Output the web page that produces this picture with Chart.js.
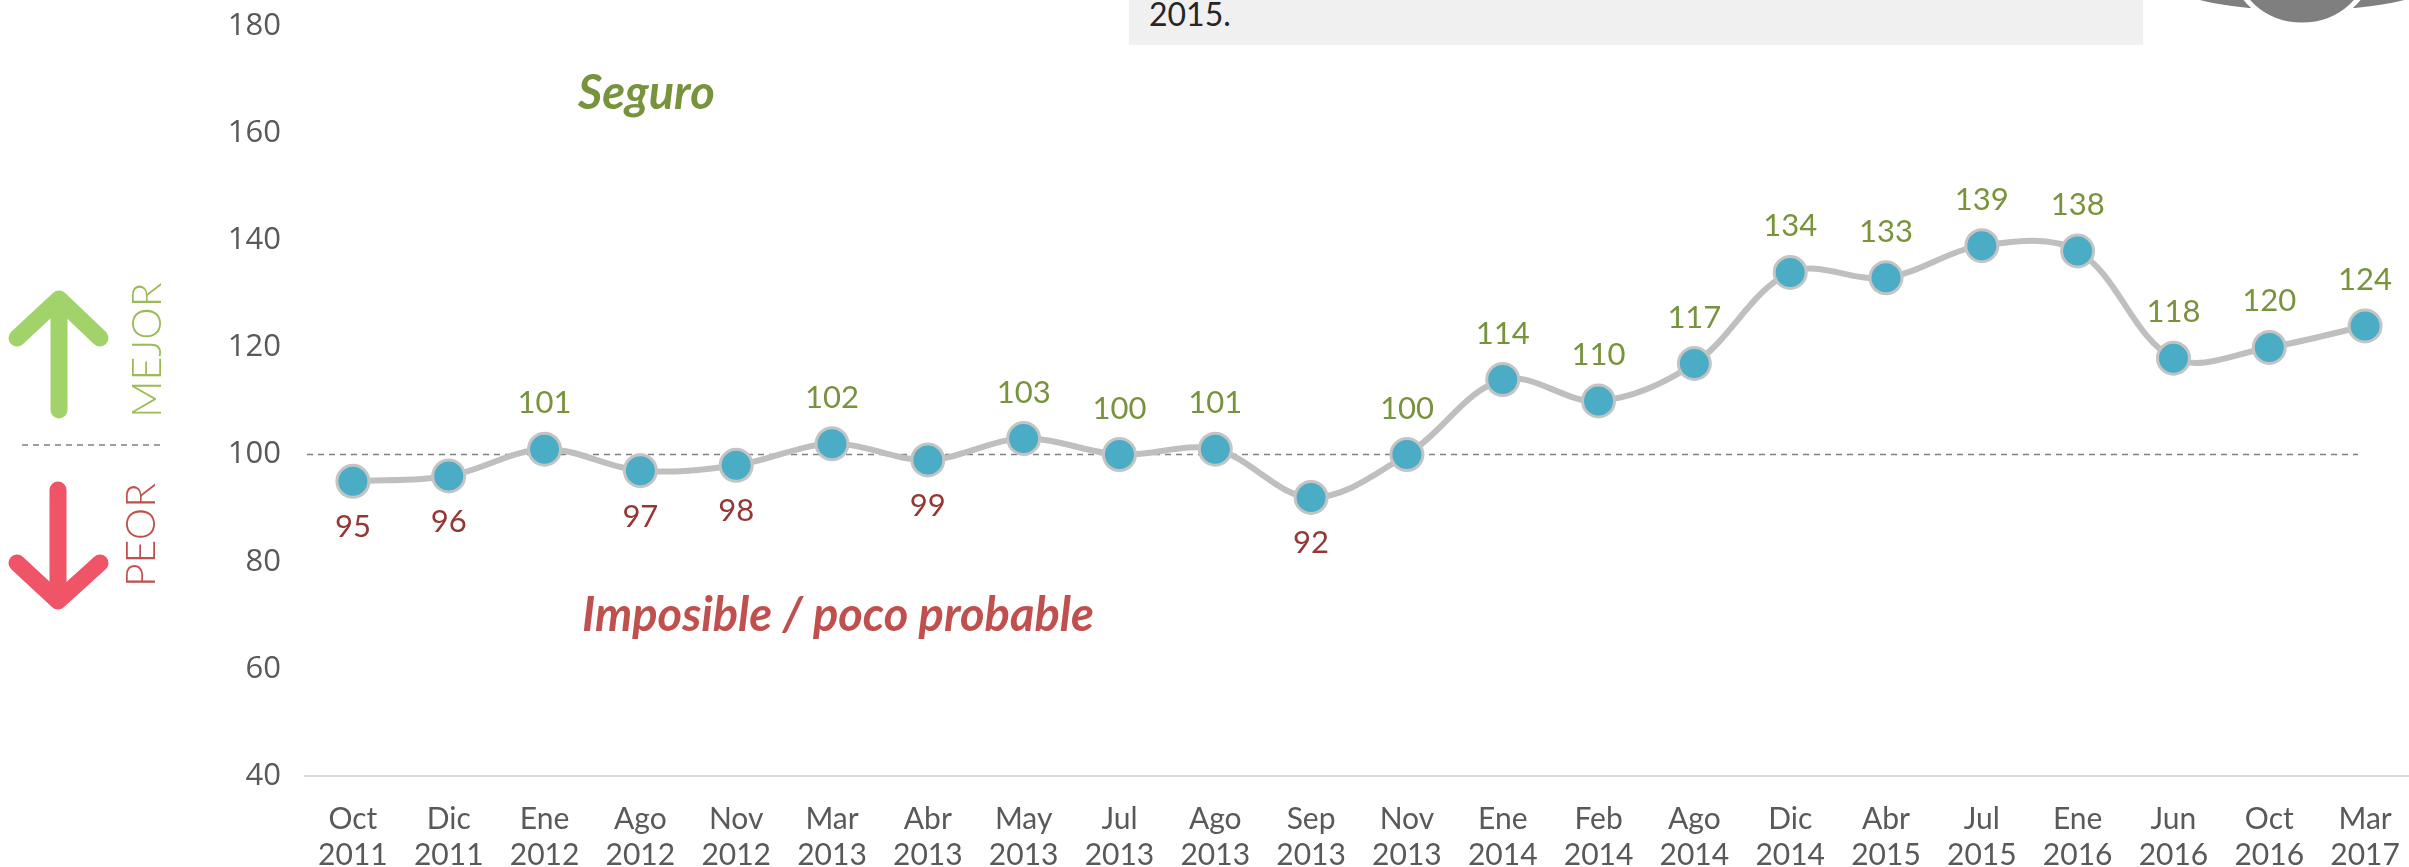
<!DOCTYPE html>
<html>
<head>
<meta charset="utf-8">
<script src="https://cdn.jsdelivr.net/npm/chart.js@4.4.1/dist/chart.umd.min.js"></script>
<style>
  html, body { margin:0; padding:0; background:#fff; }
  body { width:2409px; height:867px; overflow:hidden; position:relative; }
  #wrap { position:absolute; left:0; top:0; width:2432px; height:867px; }
  .ann { position:absolute; white-space:nowrap; line-height:1; }
</style>
</head>
<body>
<div id="wrap"><canvas id="c" width="2432" height="867"></canvas></div>

<!-- note box at top -->
<div class="ann" style="left:1129px;top:0;width:1014px;height:45px;background:#F0F0F0;"></div>
<div class="ann" style="left:1149px;top:-2px;font-family:Lato,sans-serif;font-size:32px;color:#262626;">2015.</div>

<!-- grey icon top right -->
<svg class="ann" style="left:2150px;top:0" width="259" height="40">
  <ellipse cx="152" cy="-14" rx="126" ry="24" fill="#7F7F7F"/>
  <ellipse cx="152" cy="-40" rx="70" ry="65" fill="#7F7F7F" stroke="#FFFFFF" stroke-width="5"/>
</svg>

<!-- left legend arrows -->
<svg class="ann" style="left:0;top:280px" width="200" height="340">
  <g stroke="#A2D36A" stroke-width="17" stroke-linecap="round" stroke-linejoin="round" fill="none">
    <line x1="59" y1="130" x2="59" y2="20"/>
    <polyline points="17,58 59,19 100,58"/>
  </g>
  <line x1="22" y1="165" x2="162" y2="165" stroke="#808080" stroke-width="1.5" stroke-dasharray="6,5"/>
  <g stroke="#EF5467" stroke-width="17" stroke-linecap="round" stroke-linejoin="round" fill="none">
    <line x1="58" y1="210" x2="58" y2="320"/>
    <polyline points="17,283 58,321 100,283"/>
  </g>
</svg>
<div class="ann" style="left:145px;top:350px;transform:translate(-50%,-50%) rotate(-90deg);font-family:Lato,sans-serif;font-weight:300;font-size:41px;color:#9BBB59;">MEJOR</div>
<div class="ann" style="left:139px;top:535px;transform:translate(-50%,-50%) rotate(-90deg);font-family:Lato,sans-serif;font-weight:300;font-size:41px;color:#C0504D;">PEOR</div>

<!-- zone labels -->
<div class="ann" style="left:578px;top:68px;font-family:Lato,sans-serif;font-weight:700;font-style:italic;font-size:47px;color:#77933C;">Seguro</div>
<div class="ann" style="left:582px;top:590px;font-family:Lato,sans-serif;font-weight:700;font-style:italic;font-size:47px;color:#C0504D;">Imposible / poco probable</div>

<script>
// ---- data ----
const months = ["Oct","Dic","Ene","Ago","Nov","Mar","Abr","May","Jul","Ago","Sep","Nov","Ene","Feb","Ago","Dic","Abr","Jul","Ene","Jun","Oct","Mar"];
const years  = ["2011","2011","2012","2012","2012","2013","2013","2013","2013","2013","2013","2013","2014","2014","2014","2014","2015","2015","2016","2016","2016","2017"];
const values = [95,96,101,97,98,102,99,103,100,101,92,100,114,110,117,134,133,139,138,118,120,124];
const yTicks = [40,60,80,100,120,140,160,180];
const refValue = 100;

const labels = months.map((m,i) => [m, years[i]]);

const refLine = {
  id: 'refLine',
  beforeDatasetsDraw(chart) {
    const {ctx, chartArea, scales} = chart;
    const y = scales.y.getPixelForValue(refValue);
    ctx.save();
    ctx.strokeStyle = '#808080';
    ctx.lineWidth = 1.5;
    ctx.setLineDash([6,5]);
    ctx.beginPath();
    ctx.moveTo(chartArea.left + 2, y);
    ctx.lineTo(2358, y);
    ctx.stroke();
    ctx.restore();
  }
};

const valueLabels = {
  id: 'valueLabels',
  afterDatasetsDraw(chart) {
    const {ctx} = chart;
    const meta = chart.getDatasetMeta(0);
    ctx.save();
    ctx.font = '31px Lato, sans-serif';
    ctx.textAlign = 'center';
    ctx.textBaseline = 'middle';
    meta.data.forEach((pt, i) => {
      const v = values[i];
      const above = v >= refValue;
      ctx.fillStyle = above ? '#77933C' : '#953735';
      ctx.fillText(String(v), pt.x, above ? pt.y - 46 : pt.y + 46);
    });
    ctx.restore();
  }
};

new Chart(document.getElementById('c'), {
  type: 'line',
  data: {
    labels: labels,
    datasets: [{
      data: values,
      borderColor: '#BFBFBF',
      borderWidth: 6,
      tension: 0.35,
      pointRadius: 16,
      pointHoverRadius: 16,
      pointBackgroundColor: '#4BACC6',
      pointBorderColor: '#C4C4C4',
      pointBorderWidth: 3,
      fill: false,
      clip: false
    }]
  },
  options: {
    responsive: false,
    devicePixelRatio: 1,
    animation: false,
    layout: { padding: { top: 26, right: 13, left: 0, bottom: 0 } },
    plugins: { legend: { display: false }, tooltip: { enabled: false } },
    scales: {
      x: {
        type: 'category',
        offset: true,
        grid: { display: false, drawTicks: false },
        border: { display: true, color: '#D9D9D9', width: 2 },
        ticks: {
          color: '#595959',
          font: { family: 'Lato, sans-serif', size: 30, lineHeight: 1.2 },
          padding: 25,
          maxRotation: 0,
          autoSkip: false
        },
        afterFit(scale) { scale.height = 91; scale.paddingLeft = 0; scale.paddingRight = 0; }
      },
      y: {
        min: 40, max: 180,
        afterBuildTicks(scale) { scale.ticks = yTicks.map(v => ({ value: v })); },
        grid: { display: false, drawTicks: false },
        border: { display: false },
        ticks: {
          color: '#595959',
          font: { family: '"Open Sans", sans-serif', size: 31 },
          padding: 24
        },
        afterFit(scale) { scale.width = 305; scale.paddingTop = 0; scale.paddingBottom = 0; }
      }
    }
  },
  plugins: [refLine, valueLabels]
});
</script>
</body>
</html>
